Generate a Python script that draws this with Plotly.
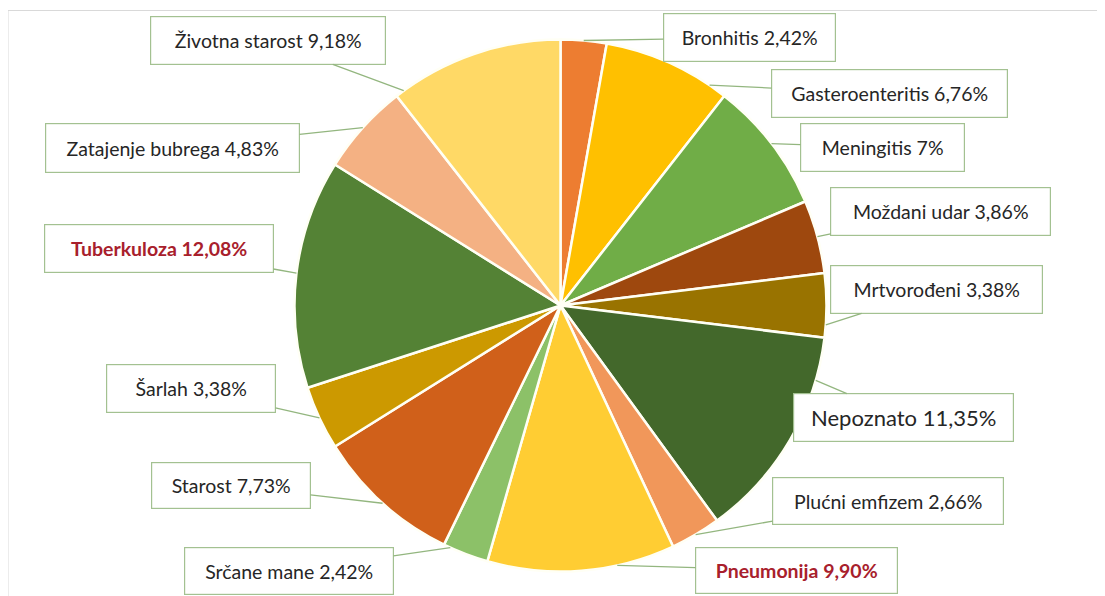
import math
import plotly.graph_objects as go

# ---- data ----
categories = ["Bronhitis", "Gasteroenteritis", "Meningitis", "Moždani udar", "Mrtvorođeni",
              "Nepoznato", "Plućni emfizem", "Pneumonija", "Srčane mane", "Starost",
              "Šarlah", "Tuberkuloza", "Zatajenje bubrega", "Životna starost"]
values = [2.42, 6.76, 7.00, 3.86, 3.38, 11.35, 2.66, 9.90, 2.42, 7.73, 3.38, 12.08, 4.83, 9.18]
pct_labels = ["2,42%", "6,76%", "7%", "3,86%", "3,38%", "11,35%", "2,66%", "9,90%",
              "2,42%", "7,73%", "3,38%", "12,08%", "4,83%", "9,18%"]

# ---- styles ----
colors = ["#ED7D31", "#FFC000", "#70AD47", "#9E480E", "#997300", "#43682B", "#F1975A",
          "#FFCD33", "#8CC168", "#D0601A", "#CC9900", "#548235", "#F4B183", "#FFD966"]
highlight = {"Tuberkuloza", "Pneumonija"}
big = {"Nepoznato"}

# label box centres (px in the picture), sizes (px) and where along the slice the leader points (0..1)
box_pos = [(749.5, 37.5), (889.5, 93.5), (882.5, 147.5), (940.5, 211.5), (936.5, 289.5),
           (903.5, 417.5), (888, 501), (796.5, 570.5), (289, 571), (231, 485.5),
           (191, 388.5), (159, 248.5), (172.5, 148), (268, 40.5)]
box_size = [(171, 47), (235, 47), (163, 47), (219, 47), (211, 47), (219, 47), (230, 46),
            (201, 45), (208, 46), (158, 45), (168, 47), (228, 47), (253, 48), (234, 47)]
anchor_frac = [0.5, 0.86, 0.5, 0.5, 0.8, 0.2, 0.5, 0.31, 0.85, 0.5, 0.5, 0.5, 0.5, 0.05]

W, H = 1105, 596
OFF = 8  # page body margin offset
CX, CY, R = 560.5 - OFF, 305.5 - OFF, 266

dom_x = [(CX - R) / W, (CX + R) / W]
dom_y = [(H - CY - R) / H, (H - CY + R) / H]

fig = go.Figure()
fig.add_trace(go.Pie(
    labels=categories, values=values, sort=False, direction="clockwise", rotation=0,
    marker=dict(colors=colors, line=dict(color="#FFFFF5", width=2.5)),
    textinfo="none", hoverinfo="label+value", showlegend=False,
    domain=dict(x=dom_x, y=dom_y),
))

total = sum(values)
cum = 0.0
annotations = []
for i, (cat, v, pl) in enumerate(zip(categories, values, pct_labels)):
    a0 = cum / total * 360
    a1 = (cum + v) / total * 360
    cum += v
    ang = math.radians(a0 + (a1 - a0) * anchor_frac[i])
    tx = CX + R * math.sin(ang)
    ty = CY - R * math.cos(ang)
    bx, by = box_pos[i][0] - OFF, box_pos[i][1] - OFF
    bw, bh = box_size[i]
    txt = f"{cat} {pl}"
    if cat in highlight:
        txt = f"<b>{txt}</b>"
        fcol = "#A8202C"
    else:
        fcol = "#262626"
    fsize = 22 if cat in big else 19.5
    annotations.append(dict(
        x=tx / W, y=1 - ty / H, xref="paper", yref="paper",
        ax=bx - tx, ay=by - ty, axref="pixel", ayref="pixel",
        text=txt, showarrow=True, arrowhead=0, arrowwidth=1.3, arrowcolor="#93B67F",
        font=dict(family="Lato, 'Open Sans', sans-serif", size=fsize, color=fcol),
        bgcolor="#FFFFFF", bordercolor="#A3C191", borderwidth=1.2, borderpad=0,
        width=bw, height=bh, align="center", valign="middle",
    ))

fig.update_layout(
    width=W, height=H, margin=dict(l=0, r=0, t=0, b=0),
    paper_bgcolor="#FFFFFF", plot_bgcolor="#FFFFFF",
    annotations=annotations,
    shapes=[dict(type="rect", xref="paper", yref="paper",
                 x0=(7.5 - OFF + 0.5) / W, x1=1.02, y0=-0.02, y1=1 - (10.5 - OFF) / H,
                 line=dict(color="#D9D9D9", width=1), layer="below")],
)

fig.write_html("out.html")
